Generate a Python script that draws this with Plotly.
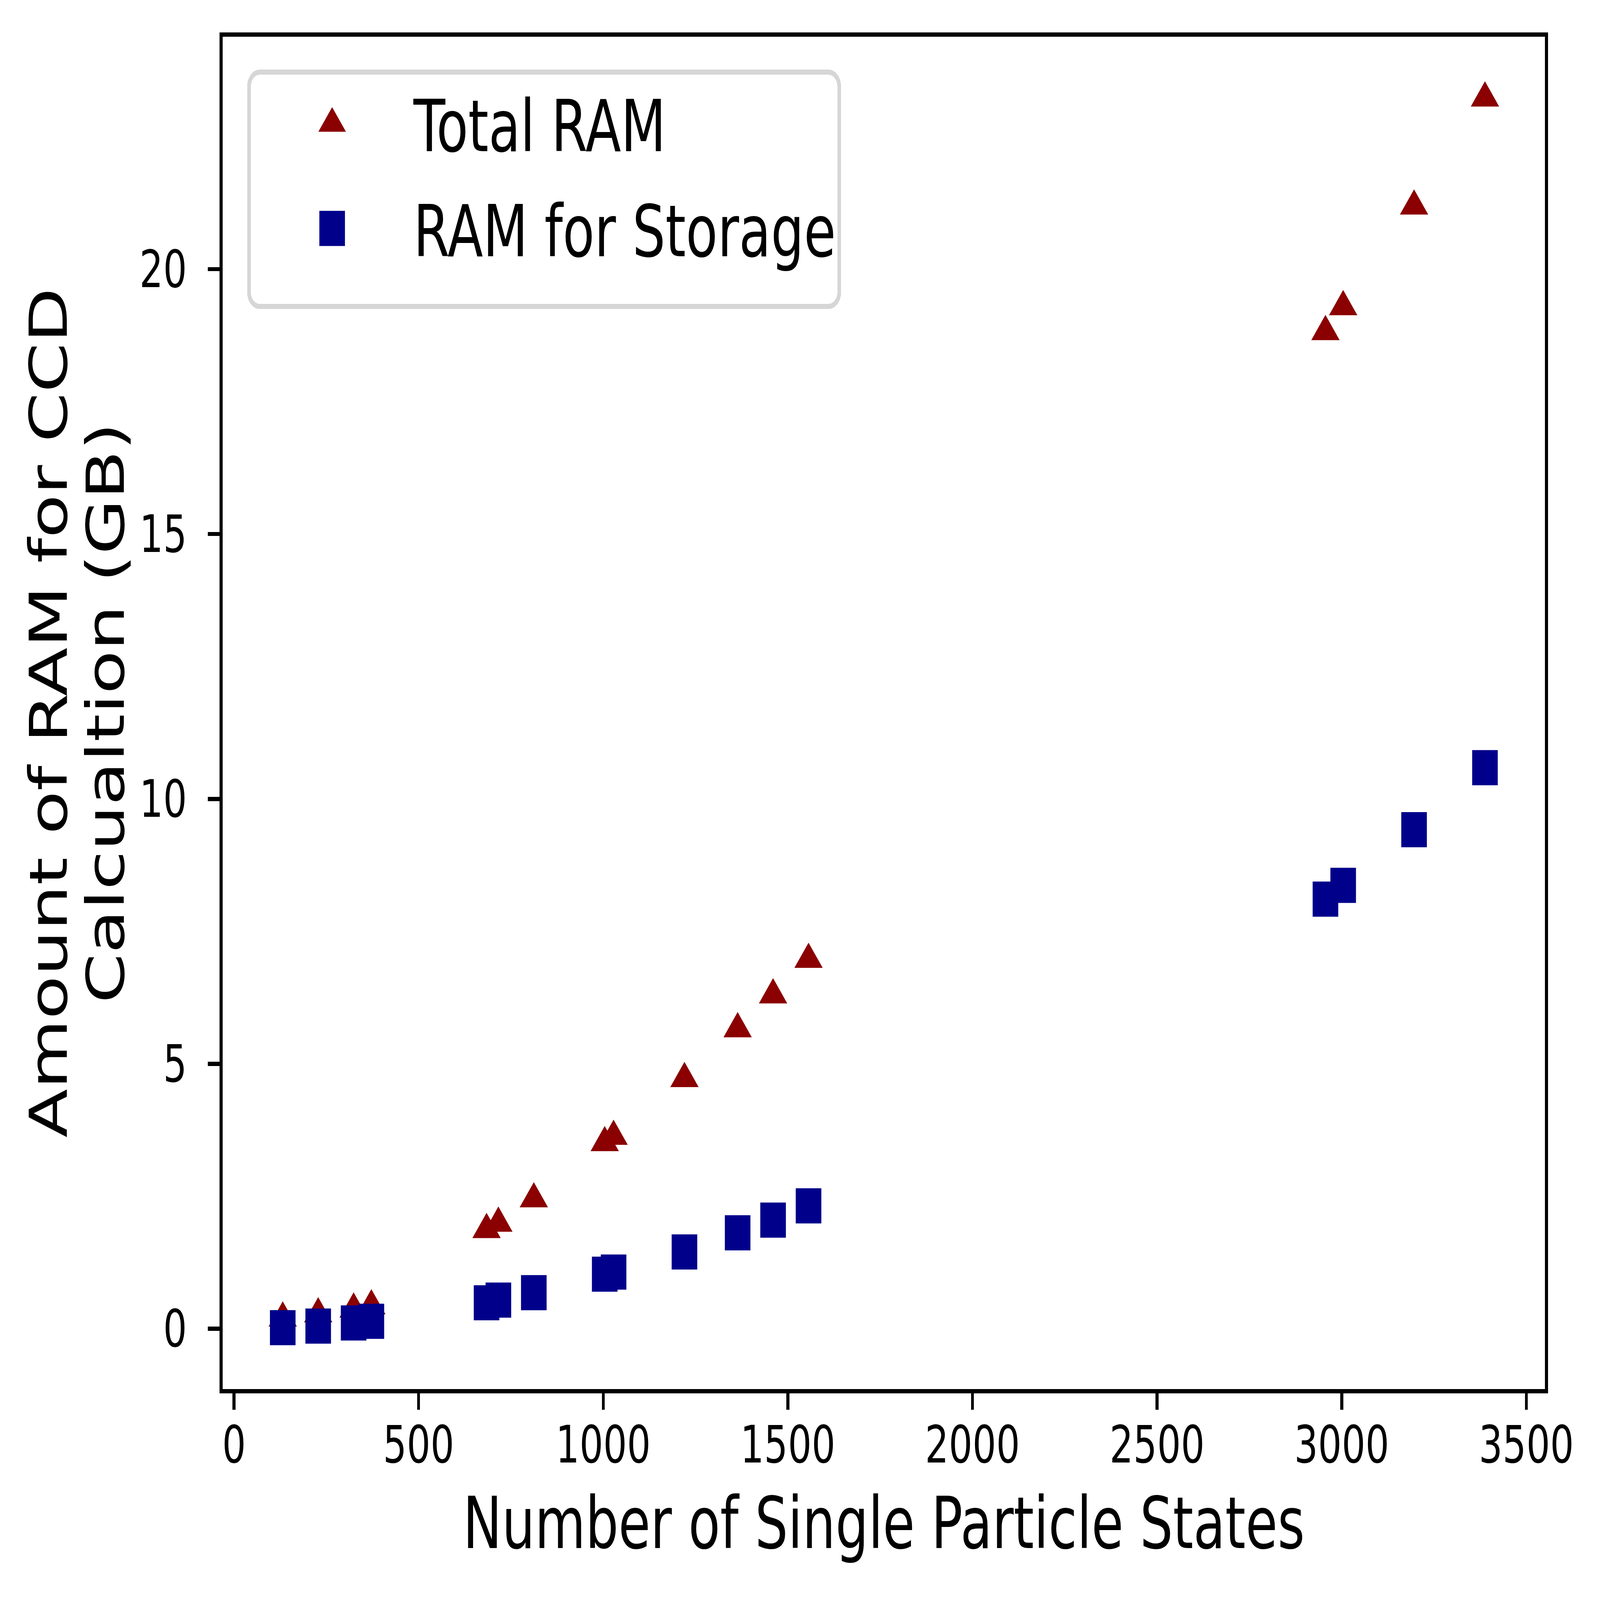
import plotly.graph_objects as go

# Data
n_states = [132, 228, 324, 372, 684, 716, 812, 1004, 1028, 1220, 1364, 1460, 1556,
            2956, 3004, 3196, 3388]
total_ram = [0.20, 0.28, 0.37, 0.43, 1.87, 1.99, 2.45, 3.51, 3.63, 4.72, 5.66, 6.30, 6.97,
             18.82, 19.29, 21.19, 23.23]
storage_ram = [0.02, 0.05, 0.11, 0.14, 0.49, 0.54, 0.68, 1.03, 1.07, 1.45, 1.81, 2.05, 2.32,
               8.11, 8.37, 9.42, 10.59]

x_ticks = [0, 500, 1000, 1500, 2000, 2500, 3000, 3500]
y_ticks = [0, 5, 10, 15, 20]

x_title = "Number of Single Particle States"
y_title_lines = ["Amount of RAM for CCD", "Calcualtion (GB)"]

FONT = "DejaVu Sans"
W, H = 6001, 4371

def padded(vals, frac=0.05):
    lo, hi = min(vals), max(vals)
    span = hi - lo
    return [lo - frac * span, hi + frac * span]

x_range = padded(n_states)
y_range = padded(total_ram + storage_ram)

fig = go.Figure()
fig.add_trace(go.Scatter(
    x=n_states, y=total_ram, mode="markers", name="Total RAM",
    legendgroup="a",
    marker=dict(symbol="triangle-up", size=92, color="#8B0000", line=dict(width=0)),
))
fig.add_trace(go.Scatter(
    x=n_states, y=storage_ram, mode="markers", name="RAM for Storage",
    legendgroup="b",
    marker=dict(symbol="square", size=96, color="#00008B", line=dict(width=0)),
))

axis_common = dict(
    showline=True, linecolor="black", linewidth=11, mirror=True,
    ticks="outside", ticklen=45, tickwidth=11, tickcolor="black",
    showgrid=False, zeroline=False,
    tickfont=dict(family=FONT, size=140, color="black"),
)

title_font = dict(family=FONT, size=195, color="black")

fig.update_layout(
    width=W, height=H,
    margin=dict(l=835, r=206, t=100, b=576, pad=0),
    paper_bgcolor="white", plot_bgcolor="white",
    font=dict(family=FONT, color="black"),
    xaxis=dict(
        range=x_range, tickmode="array", tickvals=x_ticks,
        ticktext=[str(v) for v in x_ticks], ticklabelstandoff=-24,
        title=dict(text=x_title, font=title_font, standoff=70),
        **axis_common,
    ),
    yaxis=dict(
        range=y_range, tickmode="array", tickvals=y_ticks,
        ticktext=[str(v) for v in y_ticks], ticklabelstandoff=50,
        **axis_common,
    ),
    legend=dict(
        x=0.0185, y=0.9756, xanchor="left", yanchor="top",
        bgcolor="rgba(255,255,255,0.8)", bordercolor="#d6d6d6", borderwidth=14,
        font=dict(family=FONT, size=195, color="black"),
        itemwidth=600, tracegroupgap=30, traceorder="grouped",
        itemsizing="trace",
    ),
    showlegend=True,
)

# Two-line y-axis title (matplotlib-like tight line spacing)
for xpos, line in zip([-0.13155, -0.08841], y_title_lines):
    fig.add_annotation(
        text=line, xref="paper", yref="paper", x=xpos, y=0.5,
        xanchor="center", yanchor="middle", textangle=-90,
        showarrow=False, font=title_font,
    )

# Fit the fixed-size figure to the browser window (identity at 6001x4371),
# enlarge the legend symbols to the plotted marker size, and give the legend
# frame matplotlib-like padding and rounded corners.
post_js = """
(function(){
  var gd = document.getElementById('{plot_id}');
  var sx = window.innerWidth / %d, sy = window.innerHeight / %d;
  document.documentElement.style.overflow = 'hidden';
  document.body.style.margin = '0';
  document.body.style.overflow = 'hidden';
  gd.style.transformOrigin = '0 0';
  gd.style.transform = 'scale(' + sx + ',' + sy + ')';
  var ks = [5.6, 6.0];
  gd.querySelectorAll('.legend .legendpoints path.scatterpts').forEach(function(p, i){
    var t = p.getAttribute('transform') || '';
    p.setAttribute('transform', t + ' scale(' + (ks[i] || 6) + ')');
  });
  var bg = gd.querySelector('.legend rect.bg');
  if (bg) {
    var h = parseFloat(bg.getAttribute('height')) || 0;
    bg.setAttribute('height', h + 73);
    bg.setAttribute('rx', 40);
    bg.setAttribute('ry', 40);
  }
})();
""" % (W, H)

fig.write_html("out.html", post_script=post_js, config={"displayModeBar": False})
